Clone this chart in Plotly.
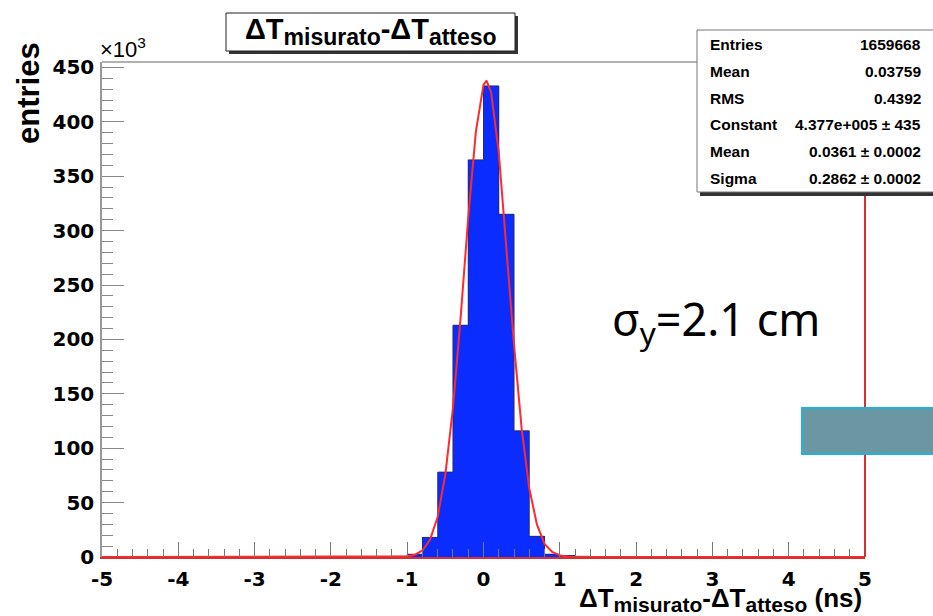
import plotly.graph_objects as go

# histogram contents (x10^3 entries), 0.2 ns bins
bin_centers = [-1.3, -1.1, -0.9, -0.7, -0.5, -0.3, -0.1, 0.1, 0.3, 0.5, 0.7, 0.9, 1.1, 1.3]
bin_counts = [0.2, 0.6, 2.5, 18, 78, 213, 365, 433, 315, 116, 19, 2.5, 1.0, 0.6]
bin_width = 0.2

# red gaussian fit curve
fit_x = [-5, -1.5, -1.2, -1.0, -0.9, -0.8, -0.7, -0.6, -0.5, -0.4, -0.3, -0.2, -0.1,
         0.0, 0.04, 0.1, 0.2, 0.3, 0.4, 0.5, 0.6, 0.7, 0.8, 0.9, 1.0, 1.1, 1.2, 1.5, 5]
fit_y = [0, 0, 0.1, 0.6, 2, 6, 16, 37, 76, 137, 220, 312, 391,
         434, 438, 427, 372, 286, 195, 118, 63, 30, 12, 4.6, 1.5, 0.4, 0.1, 0, 0]

x_tickvals = [-5, -4, -3, -2, -1, 0, 1, 2, 3, 4, 5]
x_ticktext = ["-5", "-4", "-3", "-2", "-1", "0", "1", "2", "3", "4", "5"]

stats_labels = ["Entries", "Mean", "RMS", "Constant", "Mean", "Sigma"]
stats_values = ["1659668", "0.03759", "0.4392", "4.377e+005 ± 435",
                "0.0361 ± 0.0002", "0.2862 ± 0.0002"]

W, H = 933, 616
L, R, T, B = 102, 865, 62, 557  # plot frame in pixels


def px(x):
    return (x - L) / (R - L)


def py(y):
    return (B - y) / (B - T)


def box(x0, y0, x1, y1, **kw):
    return dict(type="rect", xref="paper", yref="paper",
                x0=px(x0), x1=px(x1), y0=py(y1), y1=py(y0), **kw)


def sized(text, size):
    return f"<span style='font-size:{size}px'>{text}</span>"


fig = go.Figure()
fig.add_trace(go.Bar(
    x=bin_centers, y=bin_counts, width=bin_width,
    marker=dict(color="#0a2cff", line=dict(width=0)),
    showlegend=False,
))
# histogram outline
fig.add_trace(go.Scatter(
    x=[bin_centers[0] - bin_width] + bin_centers + [bin_centers[-1] + bin_width],
    y=[0] + bin_counts + [0],
    mode="lines", line=dict(color="#2a2a70", width=1, shape="hvh"),
    showlegend=False, hoverinfo="skip",
))
fig.add_trace(go.Scatter(
    x=fit_x, y=fit_y, mode="lines",
    line=dict(color="#ff2a2a", width=2), showlegend=False,
))

tick_font = dict(family="DejaVu Sans", size=20, color="black", weight="bold")
fig.update_xaxes(
    range=[-5, 5], tickvals=x_tickvals, ticktext=x_ticktext,
    ticks="inside", ticklen=15, tickcolor="#777", ticklabelstandoff=3,
    minor=dict(dtick=0.2, tick0=-5, ticks="inside", ticklen=8, tickcolor="#777"),
    showgrid=False, zeroline=False, showline=True, linecolor="#d83030", linewidth=2,
    tickfont=tick_font,
)
fig.update_yaxes(
    range=[0, 455], dtick=50, ticks="inside", ticklen=22, tickcolor="#888",
    minor=dict(dtick=10, ticks="inside", ticklen=11, tickcolor="#888"),
    showgrid=False, zeroline=False, showline=True, linecolor="#999", linewidth=1.5,
    tickfont=tick_font, ticklabelstandoff=2,
)

shapes = [
    dict(type="line", xref="paper", yref="paper", x0=0, x1=1, y0=1, y1=1,
         line=dict(color="#999", width=1.5)),
    dict(type="line", xref="paper", yref="paper", x0=1, x1=1, y0=0, y1=1,
         line=dict(color="#d83030", width=2)),
    box(229, 16, 518, 54, fillcolor="#333", line=dict(width=0)),
    box(226, 13, 515, 51, fillcolor="white", line=dict(color="#222", width=1)),
    box(700, 33, 945, 196, fillcolor="#333", line=dict(width=0)),
    box(697, 30, 942, 192, fillcolor="white", line=dict(color="#777", width=1)),
    box(802, 408, 945, 454, fillcolor="#6b97a2", line=dict(color="#22b4d8", width=2)),
]

ann = []
for i, (lab, val) in enumerate(zip(stats_labels, stats_values)):
    yy = py(44.5 + i * 26.8)
    ann.append(dict(text=f"<b>{lab}</b>", x=px(708), y=yy, xanchor="left", yanchor="middle"))
    ann.append(dict(text=f"<b>{val}</b>", x=px(923), y=yy, xanchor="right", yanchor="middle"))
for a in ann:
    a.update(font=dict(family="Liberation Sans", size=15.5, color="black"))

dT = "ΔT"
title_txt = (f"<b>{dT}<sub>{sized('misurato', 23)}</sub>-{dT}"
             f"<sub>{sized('atteso', 23)}</sub></b>")
xtitle_txt = (f"<b>{dT}<sub>{sized('misurato', 21)}</sub>-{dT}"
              f"<sub>{sized('atteso', 21)}</sub> (ns)</b>")

ann += [
    dict(text=title_txt, x=px(371), y=py(31), xanchor="center", yanchor="middle",
         font=dict(family="Liberation Sans", size=29, color="black")),
    dict(text=xtitle_txt, x=px(864), y=py(599), xanchor="right", yanchor="middle",
         font=dict(family="Liberation Sans", size=26, color="black")),
    dict(text="<b>entries</b>", x=px(29), y=py(40), xanchor="center", yanchor="top",
         textangle=-90, font=dict(family="Liberation Sans", size=31, color="black")),
    dict(text="×10<sup>3</sup>", x=px(98), y=py(48), xanchor="left", yanchor="middle",
         font=dict(family="Liberation Sans", size=22, color="black")),
    dict(text="σ<sub>y</sub>=2.1 cm", x=px(610), y=py(321), xanchor="left", yanchor="middle",
         font=dict(family="Noto Sans", size=45, color="black")),
]
for a in ann:
    a.setdefault("xref", "paper")
    a.setdefault("yref", "paper")
    a.setdefault("showarrow", False)

fig.update_layout(
    width=W, height=H,
    margin=dict(l=L, r=W - R, t=T, b=H - B),
    paper_bgcolor="white", plot_bgcolor="white",
    bargap=0, shapes=shapes, annotations=ann,
)

fig.write_html("out.html", config=dict(displayModeBar=False),
               post_script="document.body.style.margin = '0';")
